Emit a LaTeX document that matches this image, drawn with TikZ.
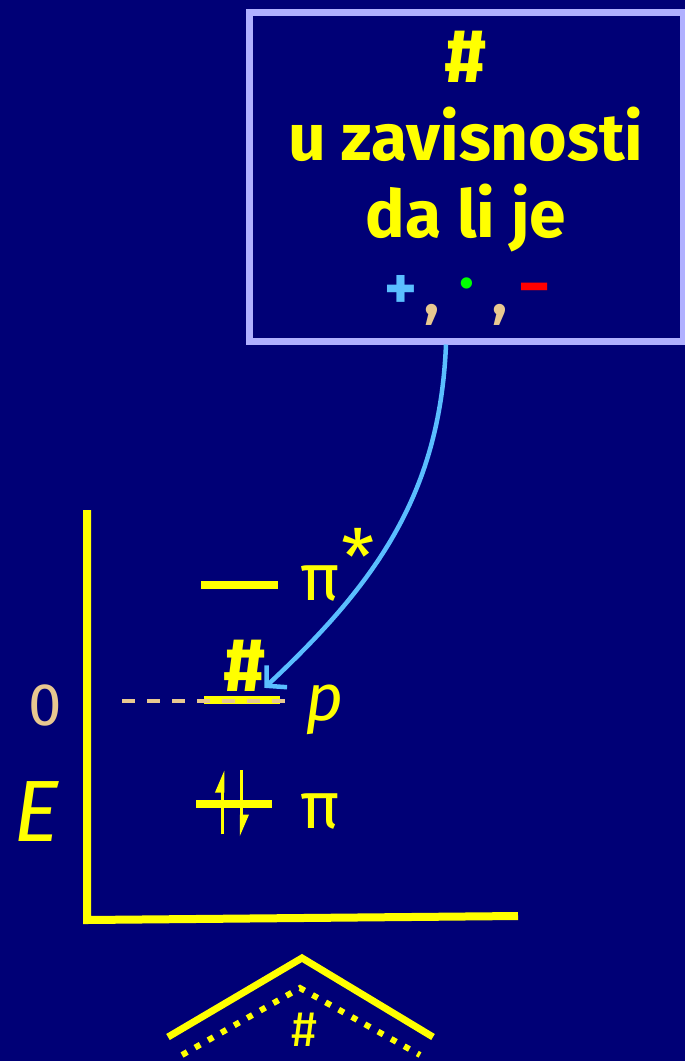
\documentclass[tikz,border=0pt]{standalone}
\usepackage{fontspec}
\setmainfont{Fira Sans}
\usetikzlibrary{arrows.meta,positioning}

\definecolor{slidebg}{RGB}{0,0,118}
\definecolor{ejyellow}{RGB}{255,255,0}
\definecolor{boxrim}{RGB}{176,176,255}
\definecolor{hintblue}{RGB}{90,190,255}
\definecolor{zerotan}{RGB}{232,200,144}
\definecolor{signred}{RGB}{255,0,0}
\definecolor{signgreen}{RGB}{0,255,0}

\begin{document}
\begin{tikzpicture}[
        x=1pt, y=-1pt,
        big/.style={text=ejyellow, inner sep=0pt, font=\fontsize{66}{66}\selectfont\bfseries},
        hashmark/.style={text=ejyellow, inner sep=0pt, font=\fontsize{76}{76}\selectfont\bfseries},
        lbl/.style={text=ejyellow, inner sep=0pt, font=\fontsize{66}{66}\selectfont},
        sign/.style={inner sep=0pt, font=\fontsize{62}{62}\selectfont\bfseries},
        level/.style={draw=ejyellow, line width=8pt},
        axis/.style={draw=ejyellow, line width=8pt},
        spin/.style={draw=ejyellow, line width=3.5pt, -{Triangle[harpoon, length=18pt, width=14pt]}},
        hint/.style={draw=hintblue, line width=4.5pt, -{Straight Barb[length=14pt, width=30pt]}}
    ]
        \fill[slidebg] (0,0) rectangle (685,1061);
        \useasboundingbox (0,0) rectangle (685,1061);

        % the question box
        \node[draw=boxrim, line width=7pt, minimum width=434pt, minimum height=329pt, inner sep=0pt] (box) at (466,176.5) {};
        \node[hashmark, anchor=base] (boxhash) at (466,82) {\#};
        \node[big, anchor=base] (boxline1) at (466,160) {u zavisnosti};
        \node[big, anchor=base] (boxline2) at (466,237) {da li je};
        \node[sign, text=hintblue] (plus) at (401,292) {+};
        \node[sign, text=zerotan] (comma1) at (432,315) {,};
        \node[sign, text=signgreen] (dot) at (467,290) {·};
        \node[sign, text=zerotan] (comma2) at (500,315) {,};
        \node[sign, text=signred] (minus) at (535,295) {−};

        % energy axes
        \draw[axis] (87,510) -- (87,920) -- (518,916);
        \node[text=zerotan, inner sep=0pt, font=\fontsize{60}{60}\selectfont] (zero) at (45,705) {0};
        \node[text=ejyellow, inner sep=0pt, font=\fontsize{87}{87}\selectfont\itshape] (energy) at (37,812) {E};

        % levels
        \draw[level] (201,585) -- (278,585);
        \draw[level] (204,699.5) -- (280,699.5);
        \draw[zerotan, line width=4pt, dash pattern=on 13pt off 12pt] (122,701) -- (286,701);
        \draw[level] (196,803.5) -- (272,803.5);
        \draw[spin] (222.5,834) -- (222.5,770);
        \draw[spin] (241.5,770) -- (241.5,837);

        \node[lbl] (pistar) at (320,583) {π};
        \node[lbl, font=\fontsize{76}{76}\selectfont] (star) at (358,556) {*};
        \node[hashmark] (phash) at (245,666) {\#};
        \node[lbl, font=\fontsize{66}{66}\selectfont\itshape] (porb) at (325,710) {p};
        \node[lbl] (pi) at (320,811) {π};

        \draw[hint] ([xshift=-20pt]box.south) .. controls (440,490) and (380,580) .. ([xshift=-2pt,yshift=4pt]phash.south east);

        % allyl skeleton
        \draw[ejyellow, line width=7pt] (168,1037) -- (302,958) -- (433,1037);
        \draw[ejyellow, line width=6pt, dash pattern=on 6pt off 9pt] (182,1055) -- (300,988) -- (420,1055);
        \node[text=ejyellow, inner sep=0pt, anchor=north, font=\fontsize{50}{50}\selectfont] (allylhash) at (304,1013) {\#};
    \end{tikzpicture}
\end{document}
